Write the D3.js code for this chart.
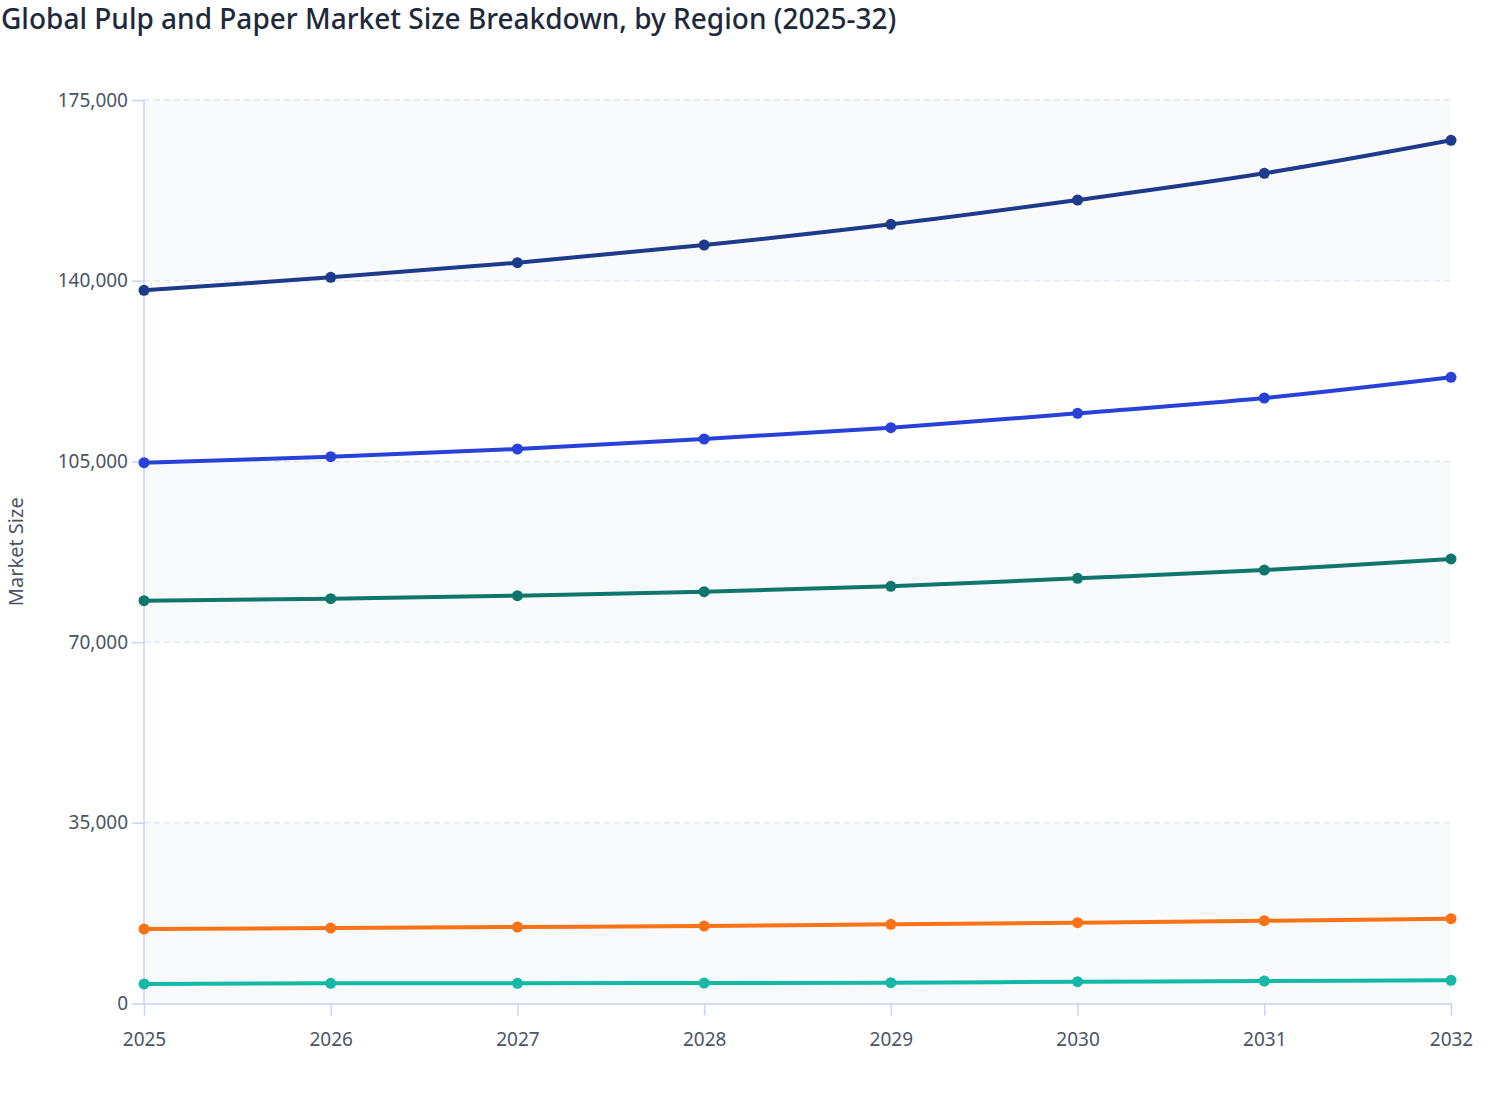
<!DOCTYPE html>
<html>
<head>
<meta charset="utf-8">
<script src="https://cdn.jsdelivr.net/npm/d3@7"></script>
<style>
  body { margin: 0; background: #fff; }
  svg, svg text { font-family: "Noto Sans", "Open Sans", sans-serif; }
</style>
</head>
<body>
<div id="chart"></div>
<script>
const years = [2025, 2026, 2027, 2028, 2029, 2030, 2031, 2032];
const yTicks = [0, 35000, 70000, 105000, 140000, 175000];

const seriesA = [138140, 140660, 143490, 146910, 150920, 155630, 160800, 167190];
const seriesB = [104750, 105910, 107400, 109340, 111530, 114320, 117280, 121290];
const seriesC = [78020, 78410, 78990, 79760, 80810, 82360, 83960, 86100];
const seriesD = [14430, 14620, 14820, 15010, 15340, 15650, 16040, 16420];
const seriesE = [3780, 3910, 3910, 3970, 4030, 4220, 4360, 4490];

const colors = ["#1e3a8a", "#2741d9", "#0f766e", "#f97316", "#14b8a6"];
const allSeries = [seriesA, seriesB, seriesC, seriesD, seriesE];

const W = 1508, H = 1120;
const margin = { top: 100, right: 57, bottom: 116.5, left: 144 };
const width = W - margin.left - margin.right;
const height = H - margin.top - margin.bottom;

const svg = d3.select("#chart").append("svg")
    .attr("width", W)
    .attr("height", H);

svg.append("text")
    .attr("x", 1)
    .attr("y", 29)
    .style("font-size", "28px")
    .style("font-weight", 500)
    .attr("fill", "#1e293b")
    .text("Global Pulp and Paper Market Size Breakdown, by Region (2025-32)");

const x = d3.scalePoint().domain(years).range([0, width]);
const y = d3.scaleLinear().domain([0, 175000]).range([height, 0]);

const g = svg.append("g").attr("transform", `translate(${margin.left},${margin.top})`);

// alternating bands
const bands = d3.pairs(yTicks).filter((d, i) => i % 2 === 0);
g.selectAll("rect.band")
    .data(bands)
    .enter().append("rect")
    .attr("class", "band")
    .attr("x", 0)
    .attr("width", width)
    .attr("y", d => y(d[1]))
    .attr("height", d => y(d[0]) - y(d[1]))
    .attr("fill", "#f8fafc");

// dashed grid
g.selectAll("line.grid")
    .data(yTicks.filter(d => d > 0))
    .enter().append("line")
    .attr("class", "grid")
    .attr("x1", 0)
    .attr("x2", width)
    .attr("y1", d => y(d))
    .attr("y2", d => y(d))
    .attr("stroke", "#e2e8f0")
    .attr("stroke-width", 1.5)
    .attr("stroke-dasharray", "6,4");

const yAxis = g.append("g")
    .call(d3.axisLeft(y).tickValues(yTicks).tickSize(12).tickPadding(4).tickFormat(d3.format(",")));

const xAxis = g.append("g")
    .attr("transform", `translate(0,${height})`)
    .call(d3.axisBottom(x).tickSize(12).tickPadding(17).tickSizeOuter(0));

[yAxis, xAxis].forEach(a => {
    a.attr("font-family", null).attr("font-size", null);
    a.select(".domain").attr("stroke", "#c7d2fe").attr("stroke-width", 1.5);
    a.selectAll(".tick line").attr("stroke", "#c7d2fe").attr("stroke-width", 1.5);
    a.selectAll(".tick text").attr("fill", "#4b5563").style("font-size", "19px");
});
yAxis.select(".domain").attr("d", `M0,${height}V0`);

svg.append("text")
    .attr("transform", `translate(23,${margin.top + y(87500)}) rotate(-90)`)
    .attr("text-anchor", "middle")
    .attr("fill", "#4b5563")
    .style("font-size", "20px")
    .text("Market Size");

const line = d3.line()
    .x((d, i) => x(years[i]))
    .y(d => y(d))
    .curve(d3.curveCatmullRom.alpha(0.5));

allSeries.forEach((values, k) => {
    g.append("path")
        .datum(values)
        .attr("fill", "none")
        .attr("stroke", colors[k])
        .attr("stroke-width", 4)
        .attr("d", line);

    g.selectAll(null)
        .data(values)
        .enter().append("circle")
        .attr("cx", (d, i) => x(years[i]))
        .attr("cy", d => y(d))
        .attr("r", 5.5)
        .attr("fill", colors[k]);
});
</script>
</body>
</html>
